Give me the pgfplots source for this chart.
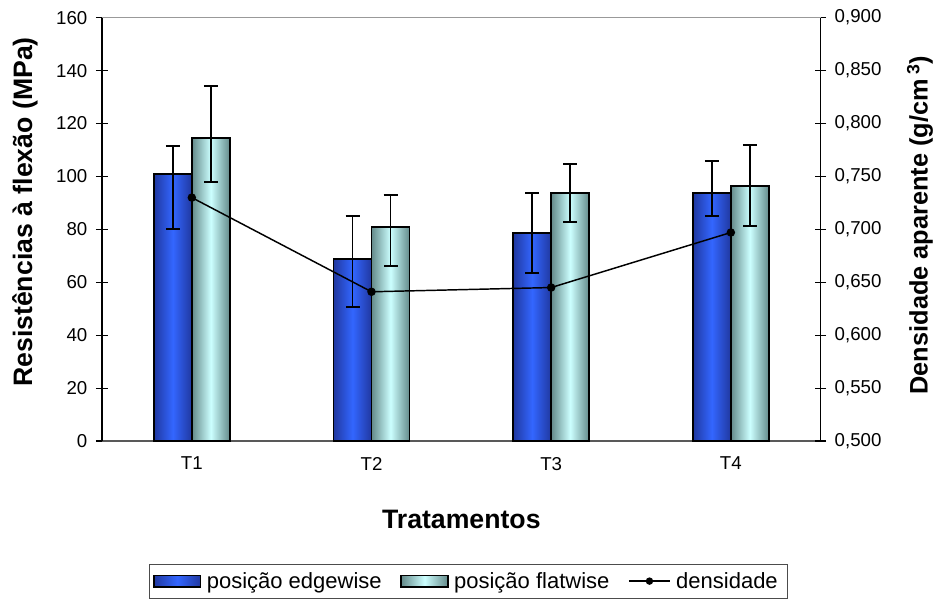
\documentclass[border=0pt]{standalone}
\usepackage{fontspec}
\setmainfont{Liberation Sans}
\usepackage{pgfplots}
\pgfplotsset{compat=1.18}
\usepackage{pgfplotstable}

\definecolor{edgeDark}{RGB}{32,56,160}
\definecolor{edgeLight}{RGB}{51,102,255}
\definecolor{flatDark}{RGB}{100,138,138}
\definecolor{flatLight}{RGB}{204,255,255}

\pgfplotstableread{
x y ep em
1 100.9 10.7 20.9
2 68.7 16.3 18.2
3 78.6 15.1 15.2
4 93.7 12.2 8.7
}\edgetab
\pgfplotstableread{
x y ep em
1 114.6 19.7 16.6
2 80.8 12.2 14.5
3 93.7 10.9 10.8
4 96.5 15.3 15.1
}\flattab
\pgfplotstableread{
x d
1 0.730
2 0.641
3 0.645
4 0.697
}\denstab

\begin{document}
\begin{tikzpicture}
\useasboundingbox (-76.5pt,-119.25pt) rectangle (624pt,330.75pt);
\begin{axis}[
  name=ax1, at={(0,0)}, anchor=south west,
  scale only axis, width=539pt, height=317.5pt,
  xmin=0.5, xmax=4.5, ymin=0, ymax=160,
  ytick={0,20,...,160},
  xtick={1,2,3,4}, xticklabels={T1,T2,T3,T4},
  xtick style={draw=none},
  axis x line*=bottom, axis y line*=left,
  x axis line style={-, draw=black!65, line width=1.1pt},
  y axis line style={-, draw=black, line width=0.8pt},
  tick align=center, major tick length=9pt,
  ytick style={black, line width=0.8pt},
  /pgf/number format/assume math mode=true,
  tick label style={font=\fontsize{14}{16}\selectfont},
  yticklabel style={xshift=-3pt},
  xticklabel style={yshift=-4pt},
  ylabel={\bfseries Resistências à flexão (MPa)},
  ylabel style={at={(axis description cs:0,0.541)}, anchor=center, yshift=57.75pt, font=\fontsize{20}{24}\selectfont},
  xlabel={\bfseries Tratamentos},
  xlabel style={at={(axis description cs:0.5,0)}, anchor=center, yshift=-58.5pt, font=\fontsize{20}{24}\selectfont},
  error bars/error mark options={rotate=90, mark size=5.25pt, line width=1.4pt, black},
]
\pgfplotsinvokeforeach{1,2,3,4}{
\addplot[ybar, bar width=28.5pt, bar shift=-14.25pt, draw=black, line width=1.3pt,
  left color=edgeDark, right color=edgeDark, middle color=edgeLight,
  restrict x to domain=#1:#1,
  error bars/.cd, y dir=both, y explicit,
  error bar style={black, line width=1.4pt, xshift=-14.25pt}]
  table[x=x, y=y, y error plus=ep, y error minus=em] {\edgetab};
\addplot[ybar, bar width=28.5pt, bar shift=14.25pt, draw=black, line width=1.3pt,
  left color=flatDark, right color=flatDark, middle color=flatLight,
  restrict x to domain=#1:#1,
  error bars/.cd, y dir=both, y explicit,
  error bar style={black, line width=1.4pt, xshift=14.25pt}]
  table[x=x, y=y, y error plus=ep, y error minus=em] {\flattab};
}
\end{axis}
\begin{axis}[
  at={(0,0)}, anchor=south west,
  scale only axis, width=539pt, height=317.5pt,
  xmin=0.5, xmax=4.5, ymin=0.5, ymax=0.9,
  ytick={0.5,0.55,0.6,0.65,0.7,0.75,0.8,0.85,0.9},
  xtick=\empty,
  axis x line*=top, axis y line*=right,
  x axis line style={-, draw=black!40, line width=0.9pt},
  y axis line style={-, draw=black, line width=0.8pt},
  tick align=center, major tick length=8pt,
  ytick style={black, line width=0.8pt},
  /pgf/number format/assume math mode=true,
  yticklabel style={xshift=3pt, /pgf/number format/.cd, fixed, fixed zerofill, precision=3, use comma},
  tick label style={font=\fontsize{14}{16}\selectfont},
  ylabel={\bfseries Densidade aparente (g/cm\,\textsuperscript{3})},
  ylabel style={at={(axis description cs:1,0.51)}, anchor=center, rotate=0, yshift=-74.5pt, font=\fontsize{19}{23}\selectfont},
  legend columns=3,
  legend style={at={(axis description cs:0.5094,-0.331)}, anchor=center, draw=black!70, line width=0.8pt,
    font=\fontsize{16.5}{19}\selectfont, inner xsep=3pt, inner ysep=4pt,
    nodes={inner xsep=4pt},
    /tikz/every even column/.append style={column sep=10pt}},
  legend image code/.code={\draw[#1] (0pt,-4.25pt) rectangle (35pt,4.25pt);},
]
\addlegendimage{draw=black, line width=1.3pt, left color=edgeDark, right color=edgeDark, middle color=edgeLight}
\addlegendentry{posição edgewise}
\addlegendimage{draw=black, line width=1.3pt, left color=flatDark, right color=flatDark, middle color=flatLight}
\addlegendentry{posição flatwise}
\addplot[black, line width=1.1pt, mark=*, mark size=2.6pt,
  legend image code/.code={\draw[black, line width=1.1pt] (0pt,0pt) -- (31pt,0pt); \fill[black] (15.5pt,0pt) circle (2.2pt);}]
  table[x=x, y=d] {\denstab};
\addlegendentry{densidade}
\end{axis}
\end{tikzpicture}
\end{document}
